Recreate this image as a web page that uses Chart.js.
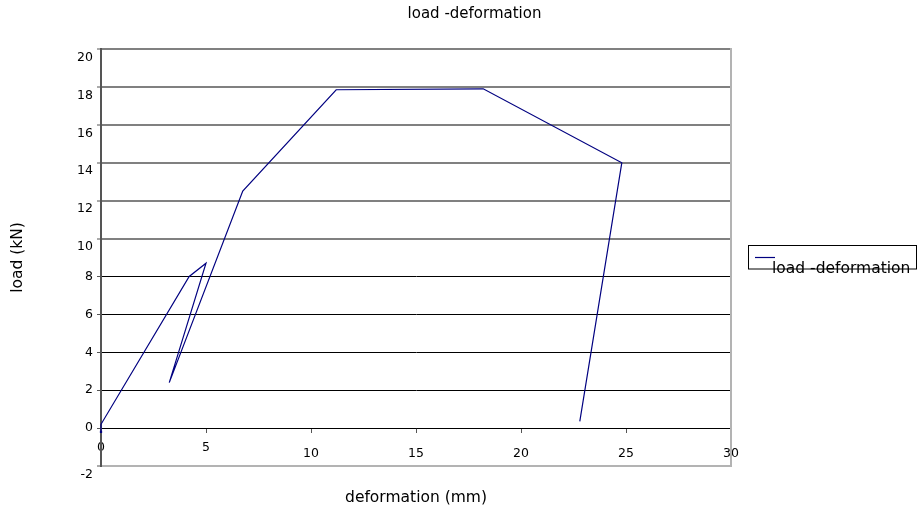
<!DOCTYPE html>
<html>
<head>
<meta charset="utf-8">
<script src="https://cdn.jsdelivr.net/npm/chart.js@4/dist/chart.umd.min.js"></script>
<style>
html,body{margin:0;padding:0;background:#fff;}
canvas{display:block;}
</style>
</head>
<body>
<canvas id="c" width="922" height="515"></canvas>
<script>
// ---- data ----
const chartTitle = 'load -deformation';
const seriesName = 'load -deformation';
const xTitle = 'deformation (mm)';
const yTitle = 'load (kN)';
const deformation = [0, 0, 4.2, 5.0, 3.25, 6.75, 11.2, 18.2, 24.8, 22.8];
const load = [-0.2, 0.2, 8.0, 8.7, 2.4, 12.5, 17.85, 17.9, 14.0, 0.35];
const xTicks = [0, 5, 10, 15, 20, 25, 30];
const yTicks = [-2, 0, 2, 4, 6, 8, 10, 12, 14, 16, 18, 20];

const FONT = 'DejaVu Sans';
Chart.defaults.font.family = FONT;
Chart.defaults.color = '#000';

const points = deformation.map((x, i) => ({x: x, y: load[i]}));

const textPlugin = {
  id: 'textPlugin',
  afterDraw(chart) {
    const ctx = chart.ctx;
    ctx.save();
    // chart title
    ctx.fillStyle = '#000';
    ctx.font = '15px "' + FONT + '"';
    ctx.textAlign = 'center';
    ctx.textBaseline = 'middle';
    ctx.fillText(chartTitle, 474.5, 14);
    // legend
    ctx.strokeStyle = '#000';
    ctx.lineWidth = 1;
    ctx.strokeRect(748.5, 245.5, 168, 23.5);
    const ds = chart.data.datasets[0];
    ctx.strokeStyle = ds.borderColor;
    ctx.lineWidth = 1.2;
    ctx.beginPath();
    ctx.moveTo(755, 257.5);
    ctx.lineTo(775, 257.5);
    ctx.stroke();
    ctx.fillStyle = '#000';
    ctx.font = '15.5px "' + FONT + '"';
    ctx.textAlign = 'left';
    ctx.textBaseline = 'alphabetic';
    ctx.fillText(ds.label, 772, 272.5);
    ctx.restore();
  }
};

new Chart(document.getElementById('c'), {
  type: 'line',
  data: {
    datasets: [{
      label: seriesName,
      data: points,
      borderColor: '#000080',
      backgroundColor: '#000080',
      borderWidth: 1.2,
      pointRadius: (c) => c.dataIndex === 0 ? 1.6 : 0,
      pointStyle: 'rect',
      pointBorderWidth: 0,
      tension: 0,
      clip: false
    }]
  },
  options: {
    responsive: false,
    animation: false,
    devicePixelRatio: 1,
    layout: {padding: {left: 0, right: 191, top: 49, bottom: 49}},
    plugins: {
      legend: {display: false},
      title: {display: false},
      tooltip: {enabled: false}
    },
    scales: {
      x: {
        type: 'linear',
        position: {y: 0},
        min: xTicks[0],
        max: xTicks[xTicks.length - 1],
        afterBuildTicks: (s) => { s.ticks = xTicks.map(v => ({value: v})); },
        afterFit: (s) => { s.height = 79.3; },
        ticks: {
          autoSkip: false,
          maxRotation: 0,
          padding: 0,
          color: '#000',
          font: (c) => ({
            family: FONT,
            size: 12.5,
            lineHeight: (c.tick && String(c.tick.value).length > 1) ? '44px' : '31px'
          })
        },
        grid: {
          display: true,
          drawOnChartArea: false,
          drawTicks: true,
          tickLength: 4,
          color: '#555',
          lineWidth: 1
        },
        border: {display: true, color: '#000', width: 1},
        title: {
          display: true,
          text: xTitle,
          color: '#000',
          font: {family: FONT, size: 15.5},
          padding: {top: 0, bottom: 0}
        }
      },
      y: {
        type: 'linear',
        position: 'left',
        min: yTicks[0],
        max: yTicks[yTicks.length - 1],
        afterBuildTicks: (s) => { s.ticks = yTicks.map(v => ({value: v})); },
        afterFit: (s) => { s.width = 101; },
        ticks: {
          padding: 4,
          color: '#000',
          font: {family: FONT, size: 12.5, lineHeight: '17px'},
          callback: (v) => String(v).length > 1 ? ['', String(v)] : String(v)
        },
        grid: {
          drawTicks: true,
          tickLength: 4,
          tickColor: '#555',
          tickWidth: 1,
          color: (c) => {
            const v = c.tick ? c.tick.value : 0;
            if (v === -2) return '#b3b3b3';
            if (v >= 10) return '#808080';
            return '#000';
          },
          lineWidth: (c) => {
            const v = c.tick ? c.tick.value : 0;
            if (v === -2) return 2;
            if (v >= 10) return 2;
            return 1;
          }
        },
        border: {display: true, color: '#555', width: 2},
        title: {
          display: true,
          text: yTitle,
          color: '#000',
          font: {family: FONT, size: 15.5},
          padding: {top: 8.7, bottom: 0}
        }
      },
      y2: {
        type: 'linear',
        position: 'right',
        display: true,
        afterFit: (s) => { s.width = 0; },
        ticks: {display: false},
        grid: {drawOnChartArea: false, drawTicks: false},
        border: {display: true, color: '#b3b3b3', width: 2}
      }
    }
  },
  plugins: [textPlugin]
});
</script>
</body>
</html>
